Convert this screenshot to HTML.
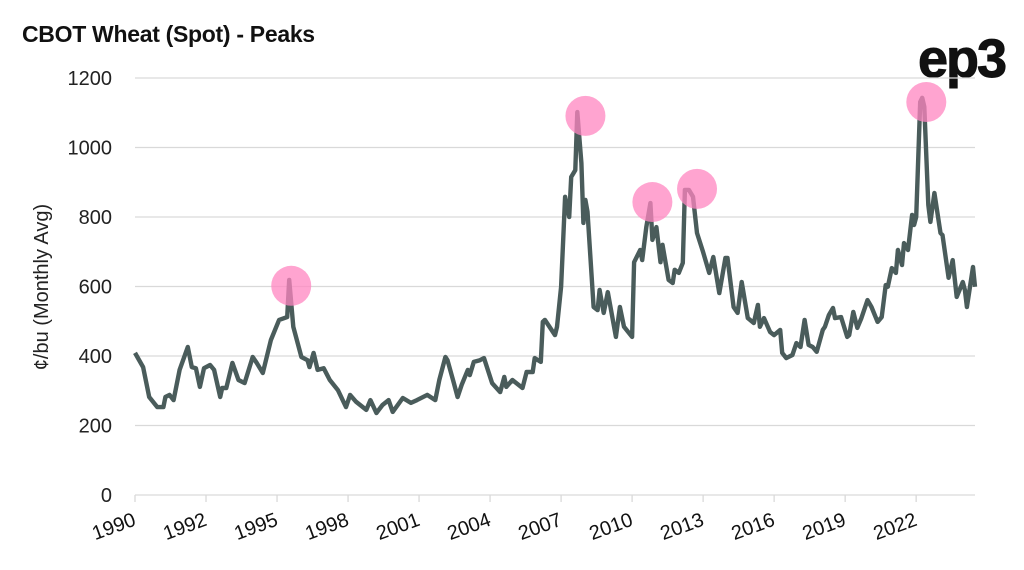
<!DOCTYPE html>
<html><head><meta charset="utf-8"><style>
body{margin:0;background:#fff;font-family:"Liberation Sans",sans-serif;}
#wrap{position:relative;width:1024px;height:570px;overflow:hidden;}
</style></head><body>
<div id="wrap">
<svg id="chart" width="1024" height="570">
<text x="22" y="42" font-size="23" font-weight="bold" fill="#111" letter-spacing="-0.3">CBOT Wheat (Spot) - Peaks</text>
<text x="1005" y="77" text-anchor="end" font-size="54" font-weight="bold" fill="#111" letter-spacing="-2" stroke="#111" stroke-width="1">ep3</text>
<text transform="translate(48,287) rotate(-90)" text-anchor="middle" font-size="20" fill="#222">¢/bu (Monthly Avg)</text>
<g id="grid"></g><g id="xaxis"></g><g id="series"></g><g id="peaks"></g>
</svg>
</div>
<script>
const yTicks=[0,200,400,600,800,1000,1200];
const xTickLabels=["1990","1992","1995","1998","2001","2004","2007","2010","2013","2016","2019","2022"];
const months=[0,4,7,11,14,15,17,19,22,26,28,30,32,34,37,39,42,43,45,48,51,54,58,60,63,67,69,71,75,76,78,82,85,86,88,90,93,96,100,104,106,109,114,116,119,122,125,127,132,136,139,144,148,150,153,154,157,159,161,164,165,167,170,172,176,180,182,183,186,191,193,196,197,200,201,202,207,208,210,212,214,215,217,218,220,221,222,223,226,228,229,231,233,237,239,241,245,246,249,250,252,254,255,257,259,260,263,265,266,268,270,271,273,275,277,280,283,285,288,291,292,295,297,299,302,305,307,308,310,313,315,318,319,321,324,326,328,330,332,334,336,339,340,342,344,345,348,351,352,354,356,358,361,363,366,368,370,371,373,375,376,378,379,381,383,384,385,387,388,389,391,392,394,397,398,401,403,405,408,409,410,413,414];
const prices=[409,368,282,253,253,282,288,273,360,426,368,365,311,365,374,360,282,308,308,380,331,322,397,380,351,446,475,504,512,619,484,397,388,368,409,360,365,331,302,253,288,268,245,273,236,259,273,239,279,265,273,288,273,331,397,388,325,282,317,360,345,383,388,394,322,296,340,311,331,308,354,354,394,383,498,504,460,484,599,858,800,915,935,1102,955,783,849,815,541,532,590,524,584,455,541,484,455,670,705,676,771,840,734,771,670,720,619,610,648,639,668,878,878,858,754,699,639,685,581,682,682,541,524,613,509,495,547,484,509,469,460,475,409,394,403,437,426,504,432,426,412,475,484,518,538,509,512,455,460,527,481,509,561,541,498,512,604,599,653,639,705,662,725,705,806,777,800,1131,1143,1117,835,786,869,754,748,625,676,570,613,590,541,656,599];
const peakMonths=[77,222,255,277,390];
const peakValues=[602,1091,843,881,1131];
const X0=135,X1=975,M1=414,Y0=495,Y1=78,V1=1200;
const xs=m=>X0+(X1-X0)*m/M1;
const ys=v=>Y0-(Y0-Y1)*v/V1;
const NS="http://www.w3.org/2000/svg";
function mk(t,a,p){const e=document.createElementNS(NS,t);for(const k in a)e.setAttribute(k,a[k]);p.appendChild(e);return e;}
const grid=document.getElementById('grid');
yTicks.forEach(v=>{
  if(v>0){const l=mk('line',{x1:X0,x2:X1,y1:ys(v),y2:ys(v),stroke:'#d9d9d9','stroke-width':1.3},grid);
  
  }
  const t=mk('text',{x:112,y:ys(v)+7,'text-anchor':'end','font-size':20,fill:'#222'},grid);
  t.textContent=v;
  
  
});
const xa=document.getElementById('xaxis');
const base=mk('line',{x1:X0,x2:X1,y1:Y0,y2:Y0,stroke:'#d9d9d9','stroke-width':1.3},xa);


xTickLabels.forEach((lab,i)=>{
  const x=xs(i*35);
  const tk=mk('line',{x1:x,x2:x,y1:Y0,y2:Y0+7,stroke:'#d9d9d9','stroke-width':1.3},xa);
  
  
  const t=mk('text',{transform:`translate(${x+2},${Y0+30}) rotate(-20)`,'text-anchor':'end','font-size':20,fill:'#111'},xa);
  t.textContent=lab;
  
  
});
const d=months.map((m,i)=>(i?'L':'M')+xs(m).toFixed(1)+','+ys(prices[i]).toFixed(1)).join('');
const p=mk('path',{d:d,fill:'none',stroke:'#4a5c5b','stroke-width':4.4,'stroke-linejoin':'round'},document.getElementById('series'));


const pk=document.getElementById('peaks');
peakMonths.forEach((m,i)=>{
  const c=mk('circle',{cx:xs(m),cy:ys(peakValues[i]),r:20,fill:'#ff86c0','fill-opacity':0.75},pk);
  
  
});
</script>
</body></html>
